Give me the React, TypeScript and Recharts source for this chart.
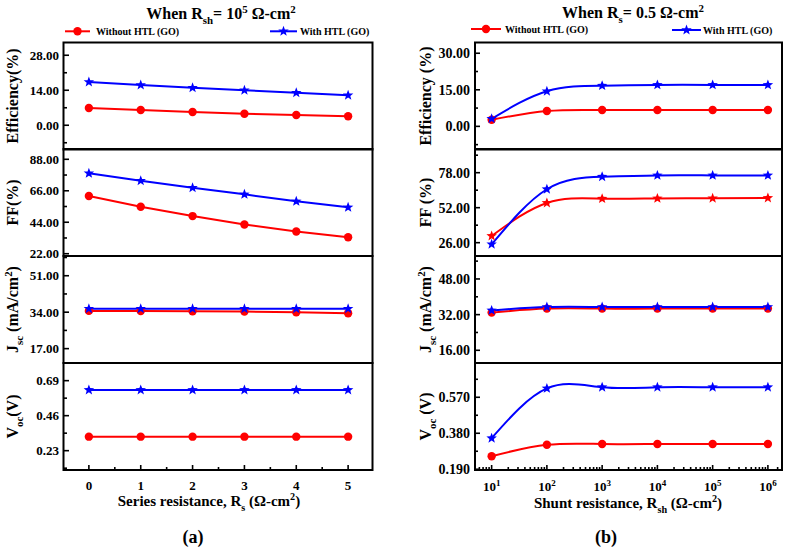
import { LineChart, Line, XAxis, YAxis } from 'recharts'

// (a) series resistance sweep, Rsh = 1e5
const rsValues = [0, 1, 2, 3, 4, 5]
const effWithoutA = [6.9, 6.1, 5.3, 4.6, 4.1, 3.6]
const effWithA = [17.3, 16.1, 15.0, 14.0, 13.0, 12.0]
const ffWithoutA = [62.3, 54.8, 48.3, 42.4, 37.5, 33.5]
const ffWithA = [78.2, 73.0, 68.1, 63.5, 58.6, 54.4]
const jscWithoutA = [34.6, 34.5, 34.4, 34.3, 34.0, 33.5]
const jscWithA = [35.6, 35.6, 35.6, 35.6, 35.6, 35.6]
const vocWithoutA = [0.322, 0.322, 0.322, 0.322, 0.322, 0.322]
const vocWithA = [0.629, 0.629, 0.629, 0.629, 0.629, 0.629]

// (b) shunt resistance sweep, Rs = 0.5
const rshValues = [1e1, 1e2, 1e3, 1e4, 1e5, 1e6]
const effWithoutB = [2.7, 6.3, 6.7, 6.7, 6.7, 6.7]
const effWithB = [3.1, 14.4, 16.7, 17.0, 17.0, 17.0]
const ffWithoutB = [31.0, 55.5, 58.7, 58.9, 59.0, 59.2]
const ffWithB = [24.8, 65.7, 75.0, 76.0, 76.0, 76.0]
const jscWithoutB = [32.9, 34.7, 34.7, 34.7, 34.7, 34.7]
const jscWithB = [33.9, 35.4, 35.4, 35.4, 35.4, 35.4]
const vocWithoutB = [0.259, 0.319, 0.323, 0.323, 0.323, 0.323]
const vocWithB = [0.354, 0.617, 0.623, 0.623, 0.623, 0.623]

const xMajorA = [0, 1, 2, 3, 4, 5]
const xMinorA = [0.5, 1.5, 2.5, 3.5, 4.5]
const xMajorB = [1e1, 1e2, 1e3, 1e4, 1e5, 1e6]
const xMinorB = [5e0, 6e0, 7e0, 8e0, 9e0, 2e1, 3e1, 4e1, 5e1, 6e1, 7e1, 8e1, 9e1, 2e2, 3e2, 4e2, 5e2, 6e2, 7e2, 8e2, 9e2,
  2e3, 3e3, 4e3, 5e3, 6e3, 7e3, 8e3, 9e3, 2e4, 3e4, 4e4, 5e4, 6e4, 7e4, 8e4, 9e4, 2e5, 3e5, 4e5, 5e5, 6e5, 7e5, 8e5, 9e5, 1.5e6]

const FONT = 'Liberation Serif, Times New Roman, DejaVu Serif, serif'
const RED = '#ff0000'
const BLUE = '#0000ff'

const PANEL_TOPS = [42.5, 149, 256, 363]
const PANEL_H = 107

function starPath(cx: number, cy: number, r: number) {
  const pts: string[] = []
  for (let i = 0; i < 10; i++) {
    const rad = i % 2 === 0 ? r : r * 0.42
    const a = -Math.PI / 2 + (i * Math.PI) / 5
    pts.push(`${(cx + rad * Math.cos(a)).toFixed(2)},${(cy + rad * Math.sin(a)).toFixed(2)}`)
  }
  return 'M' + pts.join('L') + 'Z'
}

function makeDot(shape: 'circle' | 'star', color: string) {
  return (p: any) => {
    if (p.cx == null || p.cy == null) return <g key={p.index} />
    if (shape === 'circle') return <circle key={p.index} cx={p.cx} cy={p.cy} r={4.2} fill={color} />
    return <path key={p.index} d={starPath(p.cx, p.cy, 5.5)} fill={color} />
  }
}

interface PanelProps {
  col: 'a' | 'b'
  row: number
  xs: number[]
  red: number[]
  blue: number[]
  redShape: 'circle' | 'star'
  yDomain: [number, number]
  yMajor: number[]
  yMinor: number[]
  digits: number
  tickFont: number
}

const COLS = {
  a: { plotLeft: 63.5, plotRight: 372.5, xDomain: [-0.48, 5.48] as [number, number], major: xMajorA, minor: xMinorA, curve: 'linear' as const },
  b: { plotLeft: 475, plotRight: 782, xDomain: [5, 1.8e6] as [number, number], major: xMajorB, minor: xMinorB, curve: 'natural' as const },
}

const T = { fontFamily: FONT, fontWeight: 'bold' as const, fill: '#000', style: { fontFamily: FONT } }

function Panel({ col, row, xs, red, blue, redShape, yDomain, yMajor, yMinor, digits, tickFont }: PanelProps) {
  const c = COLS[col]
  const showX = row === 3
  const yAxisW = 60
  const xAxisH = showX ? 34 : 0
  const plotW = c.plotRight - c.plotLeft
  const data = xs.map((x, i) => ({ x, red: red[i], blue: blue[i] }))
  const isLog = col === 'b'

  const xTick = (p: any) => {
    const v = p.payload.value
    const major = c.major.includes(v)
    const n = Math.round(Math.log10(v))
    return (
      <g>
        <line x1={p.x} x2={p.x} y1={p.y} y2={p.y - (major ? 5 : 3)} stroke="#000" strokeWidth={1.6} />
        {major && showX && (
          isLog ? (
            <text {...T} x={p.x} y={p.y + 21} textAnchor="middle" fontSize={13}>
              10<tspan baselineShift={5} fontSize={9}>{n}</tspan>
            </text>
          ) : (
            <text {...T} x={p.x} y={p.y + 20} textAnchor="middle" fontSize={13}>
              {v}
            </text>
          )
        )}
      </g>
    )
  }

  const yTick = (p: any) => {
    const v = p.payload.value
    const major = yMajor.includes(v)
    return (
      <g>
        <line x1={p.x} x2={p.x + (major ? 5 : 3)} y1={p.y} y2={p.y} stroke="#000" strokeWidth={1.6} />
        {major && (
          <text {...T} x={p.x - 5} y={p.y} dy="0.35em" textAnchor="end" fontSize={tickFont}>
            {v.toFixed(digits)}
          </text>
        )}
      </g>
    )
  }

  return (
    <div style={{ position: 'absolute', left: c.plotLeft - yAxisW, top: PANEL_TOPS[row] }}>
      <LineChart width={plotW + yAxisW + 6} height={PANEL_H + xAxisH} data={data} margin={{ top: 0, right: 6, bottom: 0, left: 0 }}>
        <XAxis
          dataKey="x"
          type="number"
          scale={isLog ? 'log' : 'linear'}
          domain={c.xDomain}
          allowDataOverflow
          ticks={[...c.major, ...c.minor]}
          interval={0}
          height={xAxisH}
          tickSize={0}
          tickMargin={0}
          axisLine={false}
          tickLine={false}
          tick={xTick}
        />
        <YAxis
          type="number"
          domain={yDomain}
          allowDataOverflow
          ticks={[...yMajor, ...yMinor]}
          interval={0}
          width={yAxisW}
          tickSize={0}
          tickMargin={0}
          axisLine={false}
          tickLine={false}
          tick={yTick}
        />
        <Line type={c.curve} dataKey="red" stroke={RED} strokeWidth={2} dot={makeDot(redShape, RED)} activeDot={false} isAnimationActive={false} />
        <Line type={c.curve} dataKey="blue" stroke={BLUE} strokeWidth={2} dot={makeDot('star', BLUE)} activeDot={false} isAnimationActive={false} />
      </LineChart>
    </div>
  )
}

function Sub({ children, size }: { children: string; size: number }) {
  return <tspan baselineShift={-size * 0.3} fontSize={size * 0.68}>{children}</tspan>
}

function Sup({ children, size }: { children: string; size: number }) {
  return <tspan baselineShift={size * 0.38} fontSize={size * 0.68}>{children}</tspan>
}

function YTitle({ x, y, children }: { x: number; y: number; children: any }) {
  return (
    <text {...T} x={x} y={y + 5.5} fontSize={16} textAnchor="middle" transform={`rotate(-90 ${x} ${y})`}>
      {children}
    </text>
  )
}

function Legend({ x1, x2, y, shape, color, label, tx }: { x1: number; x2: number; y: number; shape: 'circle' | 'star'; color: string; label: string; tx: number }) {
  const mx = (x1 + x2) / 2
  return (
    <g>
      <line x1={x1} x2={x2} y1={y} y2={y} stroke={color} strokeWidth={2} />
      {shape === 'circle' ? <circle cx={mx} cy={y} r={4.2} fill={color} /> : <path d={starPath(mx, y, 5.5)} fill={color} />}
      <text {...T} x={tx} y={y + 3.5} fontSize={10}>{label}</text>
    </g>
  )
}

export default function App() {
  const centers = PANEL_TOPS.map((t) => t + PANEL_H / 2)
  return (
    <div style={{ position: 'absolute', left: 0, top: 0, width: 789, height: 551, background: '#fff' }}>
      <style>{'.recharts-surface { overflow: visible; }'}</style>
      <Panel col="a" row={0} xs={rsValues} red={effWithoutA} blue={effWithA} redShape="circle" yDomain={[-9.9, 32.9]} yMajor={[0, 14, 28]} yMinor={[-7, 7, 21]} digits={2} tickFont={13} />
      <Panel col="a" row={1} xs={rsValues} red={ffWithoutA} blue={ffWithA} redShape="circle" yDomain={[20.4, 95.2]} yMajor={[22, 44, 66, 88]} yMinor={[33, 55, 77]} digits={2} tickFont={13} />
      <Panel col="a" row={2} xs={rsValues} red={jscWithoutA} blue={jscWithA} redShape="circle" yDomain={[10.3, 60.2]} yMajor={[17, 34, 51]} yMinor={[25.5, 42.5, 59.5]} digits={2} tickFont={13} />
      <Panel col="a" row={3} xs={rsValues} red={vocWithoutA} blue={vocWithA} redShape="circle" yDomain={[0.103, 0.806]} yMajor={[0.23, 0.46, 0.69]} yMinor={[0.115, 0.345, 0.575, 0.805]} digits={2} tickFont={13} />

      <Panel col="b" row={0} xs={rshValues} red={effWithoutB} blue={effWithB} redShape="circle" yDomain={[-9.7, 34.2]} yMajor={[0, 15, 30]} yMinor={[-7.5, 7.5, 22.5]} digits={2} tickFont={14} />
      <Panel col="b" row={1} xs={rshValues} red={ffWithoutB} blue={ffWithB} redShape="star" yDomain={[16.1, 95.6]} yMajor={[26, 52, 78]} yMinor={[39, 65, 91]} digits={2} tickFont={14} />
      <Panel col="b" row={2} xs={rshValues} red={jscWithoutB} blue={jscWithB} redShape="circle" yDomain={[10.3, 58.3]} yMajor={[16, 32, 48]} yMinor={[24, 40, 56]} digits={2} tickFont={14} />
      <Panel col="b" row={3} xs={rshValues} red={vocWithoutB} blue={vocWithB} redShape="circle" yDomain={[0.186, 0.751]} yMajor={[0.19, 0.38, 0.57]} yMinor={[0.285, 0.475, 0.665]} digits={3} tickFont={14} />

      <svg width={789} height={551} style={{ position: 'absolute', left: 0, top: 0, pointerEvents: 'none' }}>
        {PANEL_TOPS.map((t) => (
          <g key={t}>
            <rect x={COLS.a.plotLeft} y={t} width={COLS.a.plotRight - COLS.a.plotLeft} height={PANEL_H} fill="none" stroke="#000" strokeWidth={2} />
            <rect x={COLS.b.plotLeft} y={t} width={COLS.b.plotRight - COLS.b.plotLeft} height={PANEL_H} fill="none" stroke="#000" strokeWidth={2} />
          </g>
        ))}

        <text {...T} x={221} y={19} fontSize={16} textAnchor="middle">
          When R<Sub size={16}>sh</Sub>= 10<Sup size={16}>5</Sup> Ω-cm<Sup size={16}>2</Sup>
        </text>
        <text {...T} x={633} y={18} fontSize={16} textAnchor="middle">
          When R<Sub size={16}>s</Sub>= 0.5 Ω-cm<Sup size={16}>2</Sup>
        </text>

        <Legend x1={65} x2={90} y={31.3} shape="circle" color={RED} label="Without HTL (GO)" tx={96} />
        <Legend x1={270} x2={297} y={31.3} shape="star" color={BLUE} label="With HTL (GO)" tx={300} />
        <Legend x1={471} x2={501} y={29} shape="circle" color={RED} label="Without HTL (GO)" tx={505} />
        <Legend x1={672} x2={701} y={30} shape="star" color={BLUE} label="With HTL (GO)" tx={703} />

        <YTitle x={12} y={centers[0]}>Efficiency(%)</YTitle>
        <YTitle x={12} y={centers[1]}>FF(%)</YTitle>
        <YTitle x={12} y={centers[2]}>J<Sub size={16}>sc</Sub> (mA/cm<Sup size={16}>2</Sup>)</YTitle>
        <YTitle x={12} y={centers[3]}>V<Sub size={16}>oc</Sub>(V)</YTitle>

        <YTitle x={425} y={centers[0]}>Efficiency (%)</YTitle>
        <YTitle x={425} y={centers[1]}>FF (%)</YTitle>
        <YTitle x={425} y={centers[2]}>J<Sub size={16}>sc</Sub> (mA/cm<Sup size={16}>2</Sup>)</YTitle>
        <YTitle x={425} y={centers[3]}>V<Sub size={16}>oc</Sub> (V)</YTitle>

        <text {...T} x={209} y={506} fontSize={15} textAnchor="middle">
          Series resistance, R<Sub size={15}>s</Sub> (Ω-cm<Sup size={15}>2</Sup>)
        </text>
        <text {...T} x={628} y={508} fontSize={15} textAnchor="middle">
          Shunt resistance, R<Sub size={15}>sh</Sub> (Ω-cm<Sup size={15}>2</Sup>)
        </text>

        <text {...T} x={193} y={543} fontSize={18} textAnchor="middle">(a)</text>
        <text {...T} x={606} y={543} fontSize={18} textAnchor="middle">(b)</text>
      </svg>
    </div>
  )
}
